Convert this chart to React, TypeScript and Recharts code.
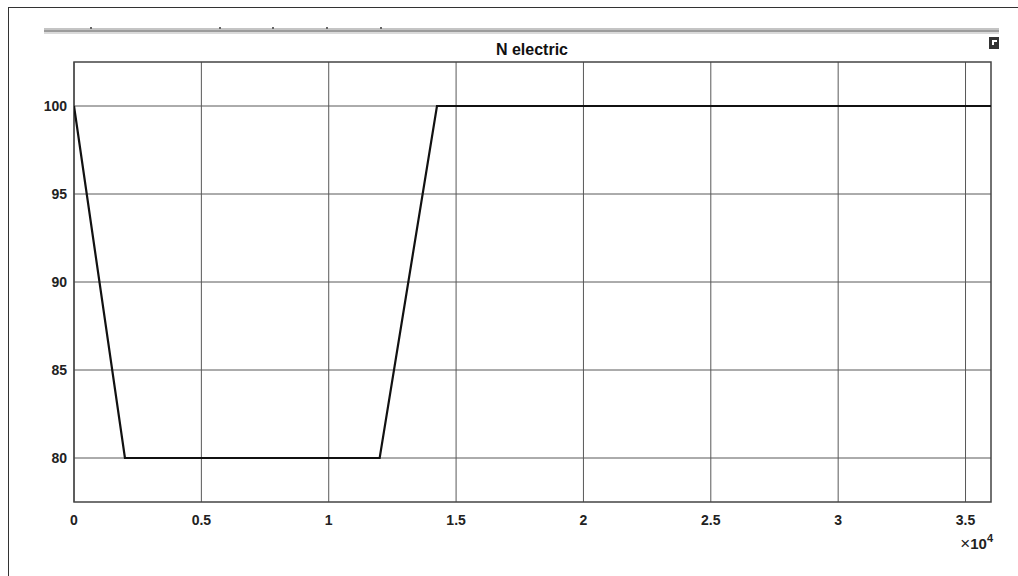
import React from "react";
import { LineChart, Line, XAxis, YAxis, CartesianGrid, ReferenceArea } from "recharts";

const timeValues = [0, 2000, 12000, 14250, 36000];
const nElectric = [100, 80, 80, 100, 100];
const xTicks = [0, 5000, 10000, 15000, 20000, 25000, 30000, 35000];
const yTicks = [80, 85, 90, 95, 100];
const xDomain = [0, 36000];
const yDomain = [77.5, 102.5];
const titleText = "N electric";
const toolbarMarks = [90, 219, 272, 326, 380];

const data = timeValues.map((t, i) => ({ t, n: nElectric[i] }));

const FONT = "Arial, 'Liberation Sans', Helvetica, sans-serif";

const ExponentLabel = (props: any) => {
  const vb = props.viewBox || {};
  const x = vb.x + vb.width;
  const y = vb.y + 47;
  return (
    <text x={x + 2} y={y} textAnchor="end" fontFamily={FONT} fontSize={15} fontWeight={600} fill="#222">
      <tspan fontWeight={400} fontSize={17}>×</tspan>
      <tspan>10</tspan>
      <tspan fontSize={11} dy={-7}>4</tspan>
    </text>
  );
};

export default function App() {
  return (
    <div style={{ position: "absolute", left: 0, top: 0, width: 1018, height: 576, background: "#fff", overflow: "hidden" }}>
      <div style={{ position: "absolute", left: 8, top: 7, width: 1010, height: 1, background: "#333" }} />
      <div style={{ position: "absolute", left: 8, top: 7, width: 1, height: 569, background: "#333" }} />
      <div style={{ position: "absolute", left: 44, top: 28, width: 955, height: 2, background: "#c4c4c4" }} />
      <div style={{ position: "absolute", left: 44, top: 30, width: 955, height: 2, background: "#9c9c9c" }} />
      <div style={{ position: "absolute", left: 44, top: 32, width: 955, height: 2, background: "#dadada" }} />
      {toolbarMarks.map((mx) => (
        <div key={mx} style={{ position: "absolute", left: mx, top: 27, width: 2, height: 2, background: "#666" }} />
      ))}
      <div style={{ position: "absolute", left: 989, top: 37, width: 10, height: 12, background: "#333" }}>
        <div style={{ position: "absolute", left: 3, top: 3, width: 5, height: 5, borderTop: "2px solid #fff", borderLeft: "2px solid #fff", boxSizing: "border-box" }} />
      </div>
      <div style={{ position: "absolute", left: 332, top: 40, width: 400, textAlign: "center", fontFamily: FONT, fontSize: 16, fontWeight: 700, color: "#111", lineHeight: "20px" }}>
        {titleText}
      </div>
      <div style={{ position: "absolute", left: 0, top: 0 }}>
        <LineChart width={1018} height={576} data={data} margin={{ top: 62, right: 27, bottom: 0, left: 0 }}>
          <CartesianGrid stroke="#585858" strokeWidth={1} horizontalValues={yTicks} verticalValues={xTicks} />
          <XAxis
            dataKey="t"
            type="number"
            domain={xDomain}
            ticks={xTicks}
            allowDataOverflow
            height={74}
            tickSize={0}
            tickMargin={13}
            axisLine={false}
            tickLine={false}
            interval={0}
            tickFormatter={(v: number) => String(v / 10000)}
            tick={{ fontFamily: FONT, fontSize: 14, fontWeight: 600, fill: "#222" }}
            label={<ExponentLabel />}
          />
          <YAxis
            type="number"
            domain={yDomain}
            ticks={yTicks}
            allowDataOverflow
            width={74}
            tickSize={0}
            tickMargin={7}
            axisLine={false}
            tickLine={false}
            interval={0}
            tick={{ fontFamily: FONT, fontSize: 14, fontWeight: 600, fill: "#222" }}
          />
          <ReferenceArea x1={xDomain[0]} x2={xDomain[1]} y1={yDomain[0]} y2={yDomain[1]} fill="none" stroke="#444" strokeWidth={1.5} fillOpacity={0} />
          <Line type="linear" dataKey="n" stroke="#111" strokeWidth={2.2} dot={false} isAnimationActive={false} />
        </LineChart>
      </div>
    </div>
  );
}
